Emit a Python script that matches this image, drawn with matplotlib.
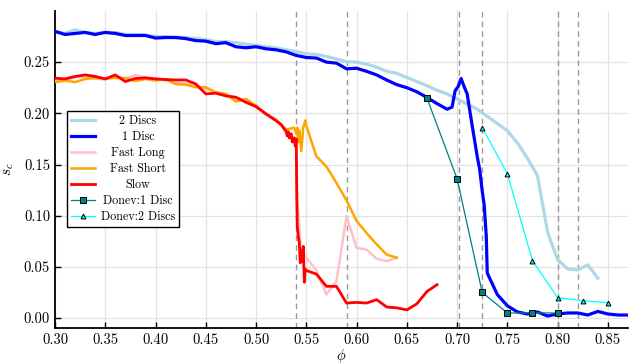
import matplotlib
matplotlib.use("Agg")
import matplotlib.pyplot as plt
import numpy as np

# ---- data ----
phi_two = [0.30, 0.31, 0.32, 0.33, 0.34, 0.35, 0.36, 0.37, 0.38, 0.39,
           0.40, 0.41, 0.42, 0.43, 0.44, 0.45, 0.46, 0.47, 0.48, 0.49,
           0.50, 0.51, 0.52, 0.53, 0.54, 0.55, 0.56, 0.57, 0.58, 0.59,
           0.60, 0.61, 0.62, 0.63, 0.64, 0.65, 0.66, 0.67, 0.68, 0.69,
           0.70, 0.71, 0.72, 0.73, 0.74, 0.75, 0.76, 0.77, 0.78, 0.79,
           0.80, 0.81, 0.82, 0.83, 0.84]
sc_two = [0.280, 0.278, 0.2815, 0.279, 0.278, 0.279, 0.279, 0.277, 0.277, 0.2765,
          0.275, 0.275, 0.2745, 0.274, 0.273, 0.272, 0.270, 0.270, 0.269, 0.2675,
          0.2665, 0.265, 0.264, 0.262, 0.2605, 0.258, 0.2575, 0.2555, 0.253, 0.2505,
          0.250, 0.248, 0.245, 0.241, 0.239, 0.235, 0.231, 0.227, 0.2225, 0.219,
          0.214, 0.209, 0.204, 0.197, 0.190, 0.183, 0.171, 0.156, 0.139, 0.084,
          0.057, 0.048, 0.047, 0.052, 0.039]

phi_one = [0.30, 0.31, 0.32, 0.33, 0.34, 0.35, 0.36, 0.37, 0.38, 0.39,
           0.40, 0.41, 0.42, 0.43, 0.44, 0.45, 0.46, 0.47, 0.48, 0.49,
           0.50, 0.51, 0.52, 0.53, 0.54, 0.55, 0.56, 0.57, 0.58, 0.59,
           0.60, 0.61, 0.62, 0.63, 0.64, 0.65, 0.66, 0.67, 0.68, 0.69,
           0.695, 0.698, 0.701, 0.704, 0.707, 0.71, 0.715, 0.72, 0.7225, 0.725,
           0.727, 0.729, 0.73, 0.74, 0.75, 0.76, 0.77, 0.78, 0.79, 0.80,
           0.81, 0.82, 0.83, 0.84, 0.85, 0.86, 0.87]
sc_one = [0.280, 0.277, 0.278, 0.279, 0.277, 0.279, 0.278, 0.276, 0.276, 0.276,
          0.2735, 0.274, 0.274, 0.273, 0.271, 0.2705, 0.268, 0.269, 0.265, 0.264,
          0.265, 0.263, 0.262, 0.260, 0.2565, 0.2545, 0.254, 0.250, 0.249, 0.2435,
          0.244, 0.241, 0.2375, 0.2325, 0.228, 0.225, 0.221, 0.2155, 0.2095, 0.204,
          0.206, 0.222, 0.226, 0.234, 0.226, 0.219, 0.188, 0.158, 0.145, 0.124,
          0.110, 0.080, 0.044, 0.023, 0.012, 0.006, 0.004, 0.006, 0.002, 0.004,
          0.005, 0.005, 0.003, 0.0065, 0.004, 0.003, 0.003]

phi_long = [0.30, 0.31, 0.32, 0.33, 0.34, 0.35, 0.36, 0.37, 0.38, 0.39,
            0.40, 0.41, 0.42, 0.43, 0.44, 0.45, 0.46, 0.47, 0.48, 0.49,
            0.50, 0.51, 0.52, 0.53, 0.535, 0.54, 0.541, 0.543, 0.545, 0.55,
            0.56, 0.57, 0.58, 0.59, 0.60, 0.61, 0.62, 0.63, 0.64]
sc_long = [0.232, 0.233, 0.235, 0.236, 0.234, 0.233, 0.236, 0.234, 0.2375, 0.235,
           0.234, 0.232, 0.231, 0.229, 0.226, 0.224, 0.221, 0.218, 0.215, 0.212,
           0.207, 0.200, 0.193, 0.183, 0.178, 0.172, 0.115, 0.090, 0.065, 0.059,
           0.047, 0.023, 0.036, 0.0995, 0.0685, 0.067, 0.058, 0.0555, 0.059]

phi_short = [0.30, 0.31, 0.32, 0.33, 0.34, 0.35, 0.36, 0.37, 0.38, 0.39,
             0.40, 0.41, 0.42, 0.43, 0.44, 0.45, 0.46, 0.47, 0.48, 0.49,
             0.50, 0.51, 0.52, 0.53, 0.538, 0.540, 0.541, 0.542, 0.543, 0.545,
             0.547, 0.549, 0.55, 0.56, 0.57, 0.58, 0.59, 0.60, 0.61, 0.62,
             0.63, 0.64]
sc_short = [0.2305, 0.232, 0.2305, 0.2335, 0.2345, 0.234, 0.2345, 0.2345, 0.2315, 0.2335,
            0.232, 0.2335, 0.2285, 0.228, 0.2255, 0.2255, 0.2205, 0.219, 0.2115, 0.214,
            0.2075, 0.199, 0.194, 0.184, 0.186, 0.180, 0.186, 0.172, 0.183, 0.163,
            0.186, 0.193, 0.188, 0.158, 0.148, 0.132, 0.115, 0.095, 0.083, 0.072,
            0.062, 0.059]

phi_slow = [0.30, 0.31, 0.32, 0.33, 0.34, 0.35, 0.36, 0.37, 0.38, 0.39,
            0.40, 0.41, 0.42, 0.43, 0.44, 0.45, 0.46, 0.47, 0.48, 0.49,
            0.50, 0.51, 0.52, 0.525, 0.53, 0.531, 0.532, 0.533, 0.535, 0.536,
            0.538, 0.539, 0.540, 0.5405, 0.541, 0.542, 0.543, 0.544, 0.545, 0.546,
            0.547, 0.548, 0.549, 0.55, 0.56, 0.57, 0.58, 0.59, 0.60, 0.61,
            0.62, 0.63, 0.64, 0.65, 0.66, 0.67, 0.68]
sc_slow = [0.2343, 0.2336, 0.236, 0.2375, 0.236, 0.2336, 0.2375, 0.231, 0.234, 0.2346,
           0.2336, 0.233, 0.2326, 0.2326, 0.2287, 0.219, 0.2196, 0.217, 0.2157, 0.2107,
           0.2065, 0.1993, 0.1927, 0.189, 0.182, 0.178, 0.182, 0.176, 0.180, 0.172,
           0.176, 0.168, 0.175, 0.120, 0.090, 0.080, 0.074, 0.054, 0.066, 0.055,
           0.070, 0.035, 0.048, 0.0465, 0.043, 0.031, 0.031, 0.0147, 0.0153, 0.0147,
           0.018, 0.0108, 0.010, 0.008, 0.014, 0.026, 0.0326]

phi_donev1 = [0.67, 0.70, 0.725, 0.75, 0.775, 0.80]
sc_donev1 = [0.215, 0.136, 0.025, 0.005, 0.005, 0.005]

phi_donev2 = [0.725, 0.75, 0.775, 0.80, 0.825, 0.85]
sc_donev2 = [0.186, 0.141, 0.056, 0.020, 0.017, 0.015]

transitions = [0.54, 0.59, 0.702, 0.725, 0.80, 0.82]

# ---- style ----
plt.rcParams['font.family'] = 'serif'
plt.rcParams['font.serif'] = ['cmr10', 'DejaVu Serif']
plt.rcParams['mathtext.fontset'] = 'cm'
plt.rcParams['axes.formatter.use_mathtext'] = True

fig = plt.figure(figsize=(6.29, 3.64), dpi=100)
ax = fig.add_axes([0.0874, 0.098, 0.911, 0.872])

ax.plot(phi_two, sc_two, color='lightblue', lw=2.3, label='2 Discs', zorder=3)
ax.plot(phi_one, sc_one, color='blue', lw=2.3, label='1 Disc', zorder=4)
ax.plot(phi_long, sc_long, color='pink', lw=1.8, label='Fast Long', zorder=3)
ax.plot(phi_short, sc_short, color='orange', lw=1.8, label='Fast Short', zorder=4)
ax.plot(phi_slow, sc_slow, color='red', lw=2.0, label='Slow', zorder=5)
ax.plot(phi_donev1, sc_donev1, color='teal', lw=0.9, marker='s', ms=4.2,
        mfc='teal', mec='black', mew=0.7, label='Donev:1 Disc', zorder=6)
ax.plot(phi_donev2, sc_donev2, color='cyan', lw=0.9, marker='^', ms=3.5,
        mfc='cyan', mec='black', mew=0.7, label='Donev:2 Discs', zorder=6)

for p in transitions:
    ax.axvline(p, color='#999999', ls=(0, (4, 3)), lw=1.0, zorder=2)

ax.set_xlim(0.30, 0.87)
ax.set_ylim(-0.01, 0.30)
ax.set_xticks(np.arange(0.30, 0.851, 0.05))
ax.set_yticks(np.arange(0.0, 0.251, 0.05))
ax.xaxis.set_major_formatter(matplotlib.ticker.FormatStrFormatter('%.2f'))
ax.yaxis.set_major_formatter(matplotlib.ticker.FormatStrFormatter('%.2f'))
ax.tick_params(direction='in', length=4, width=1, labelsize=10.5, colors='black')
ax.grid(True, color='#e3e3e3', lw=0.9, zorder=0)
ax.set_axisbelow(True)

ax.spines['right'].set_visible(False)
ax.spines['top'].set_visible(False)
ax.spines['left'].set_linewidth(1.3)
ax.spines['bottom'].set_linewidth(1.3)

ax.set_xlabel(r'$\phi$', fontsize=10.5, labelpad=0)
ax.set_ylabel(r'$s_c$', fontsize=11, labelpad=6)

leg = ax.legend(loc='lower left', bbox_to_anchor=(0.021, 0.319), fontsize=8.7,
                frameon=True, fancybox=False, edgecolor='black',
                framealpha=1, handlelength=2.0, borderpad=0.35,
                labelspacing=0.32, handletextpad=0.45, borderaxespad=0)
leg.get_frame().set_linewidth(1.0)

# centre the legend labels in their column
fig.canvas.draw()
texts = leg.get_texts()
widths = [t.get_window_extent().width for t in texts]
wmax = max(widths)
for t, w in zip(texts, widths):
    t.set_x((wmax - w) / 2)

fig.savefig('out.png', dpi=100)
